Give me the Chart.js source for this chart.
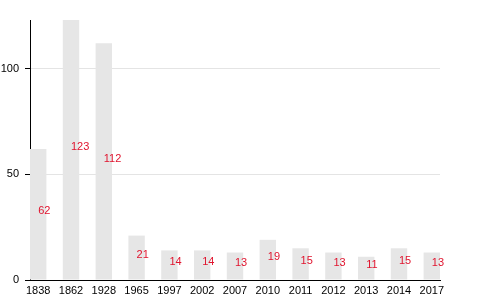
<!DOCTYPE html>
<html>
<head>
<meta charset="utf-8">
<script src="https://cdn.jsdelivr.net/npm/chart.js@4/dist/chart.umd.min.js"></script>
<style>
  html, body { margin: 0; padding: 0; background: #fff; }
  #wrap { width: 480px; height: 300px; }
</style>
</head>
<body>
<div id="wrap"><canvas id="chart"></canvas></div>
<script>
const years = ["1838", "1862", "1928", "1965", "1997", "2002", "2007", "2010", "2011", "2012", "2013", "2014", "2017"];
const counts = [62, 123, 112, 21, 14, 14, 13, 19, 15, 13, 11, 15, 13];
const yTicks = [0, 50, 100];

const FONT = "'Liberation Sans', Arial, sans-serif";

// value labels, drawn at bar middle, starting at the bar centre
const valueLabels = {
    id: "valueLabels",
    afterDatasetsDraw(chart) {
        const ctx = chart.ctx;
        const x = chart.scales.x;
        const y = chart.scales.y;
        ctx.save();
        ctx.font = "11px " + FONT;
        ctx.fillStyle = "#e0142e";
        ctx.textAlign = "left";
        ctx.textBaseline = "alphabetic";
        counts.forEach((v, i) => {
            ctx.fillText(String(v), x.getPixelForValue(i), y.getPixelForValue(v / 2));
        });
        ctx.restore();
    }
};

new Chart(document.getElementById("chart").getContext("2d"), {
    type: "bar",
    data: {
        datasets: [{
            data: counts.map((v, i) => ({ x: i, y: v })),
            backgroundColor: "#e6e6e6",
            borderWidth: 0,
            categoryPercentage: 1,
            barPercentage: 0.5
        }]
    },
    options: {
        responsive: true,
        maintainAspectRatio: false,
        animation: false,
        layout: { padding: { top: 20, right: 40, left: 0, bottom: 0 } },
        plugins: {
            legend: { display: false },
            tooltip: { enabled: false }
        },
        scales: {
            x: {
                type: "linear",
                offset: false,
                min: -0.25,
                max: 12.25,
                afterBuildTicks: axis => { axis.ticks = years.map((_, i) => ({ value: i })); },
                afterFit: axis => { axis.height = 20; },
                grid: { drawOnChartArea: false, drawTicks: false },
                border: { color: "#000", width: 1 },
                ticks: {
                    autoSkip: false,
                    maxRotation: 0,
                    padding: 4,
                    color: "#000",
                    font: { family: FONT, size: 11 },
                    callback: v => years[v]
                }
            },
            y: {
                min: 0,
                max: 123,
                afterBuildTicks: axis => { axis.ticks = yTicks.map(v => ({ value: v })); },
                afterFit: axis => { axis.width = 30; },
                grid: { color: "#e4e4e4", tickColor: "#000", tickLength: 5 },
                border: { color: "#000", width: 1 },
                ticks: {
                    padding: 6,
                    color: "#000",
                    font: { family: FONT, size: 11 }
                }
            }
        }
    },
    plugins: [valueLabels]
});
</script>
</body>
</html>
